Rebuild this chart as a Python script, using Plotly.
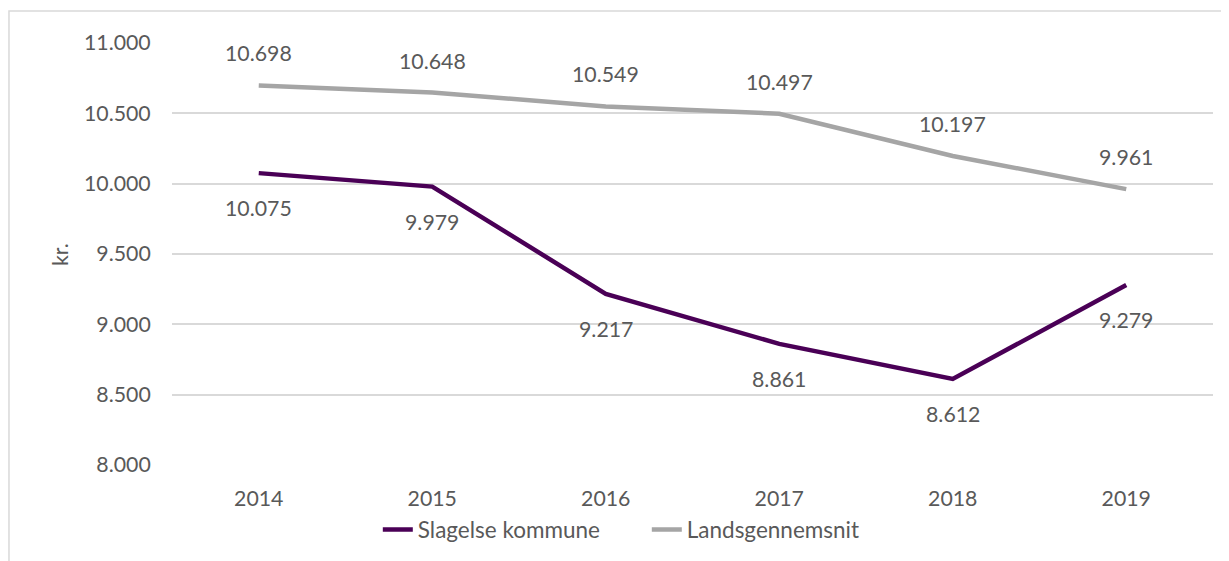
import plotly.graph_objects as go

years = ["2014", "2015", "2016", "2017", "2018", "2019"]
slagelse = [10075, 9979, 9217, 8861, 8612, 9279]
lands = [10698, 10648, 10549, 10497, 10197, 9961]
slagelse_labels = ["10.075", "9.979", "9.217", "8.861", "8.612", "9.279"]
lands_labels = ["10.698", "10.648", "10.549", "10.497", "10.197", "9.961"]
y_ticks = [8000, 8500, 9000, 9500, 10000, 10500, 11000]
y_ticklabels = ["8.000", "8.500", "9.000", "9.500", "10.000", "10.500", "11.000"]

PURPLE = "#4A0056"
GRAY = "#A5A5A5"
TXT = "#595959"
FONT = "Lato"
FS = 21.3
LFS = 22.5

fig = go.Figure()
fig.add_trace(go.Scatter(x=years, y=slagelse, mode="lines", name="Slagelse kommune",
                         line=dict(color=PURPLE, width=4.5)))
fig.add_trace(go.Scatter(x=years, y=lands, mode="lines", name="Landsgennemsnit",
                         line=dict(color=GRAY, width=4.5)))

ann = []
for i, (y, t) in enumerate(zip(lands, lands_labels)):
    ann.append(dict(x=i, y=y, xref="x", yref="y", text=t, showarrow=False, yshift=32,
                    yanchor="middle", font=dict(family=FONT, size=FS, color=TXT)))
for i, (y, t) in enumerate(zip(slagelse, slagelse_labels)):
    ann.append(dict(x=i, y=y, xref="x", yref="y", text=t, showarrow=False, yshift=-35,
                    yanchor="middle", font=dict(family=FONT, size=FS, color=TXT)))
ann.append(dict(xref="paper", yref="paper", x=-0.1076, y=0.5, text="kr.", textangle=-90,
                xanchor="center", yanchor="middle",
                showarrow=False, font=dict(family=FONT, size=FS, color=TXT)))

fig.update_layout(
    width=1229, height=561,
    margin=dict(l=164, r=24, t=35, b=104, autoexpand=False),
    paper_bgcolor="white", plot_bgcolor="white",
    font=dict(family=FONT, size=FS, color=TXT),
    showlegend=True,
    legend=dict(orientation="h", x=0.1977, xanchor="left", y=-0.154, yanchor="middle",
                font=dict(family=FONT, size=LFS, color=TXT), itemwidth=30,
                entrywidth=224, entrywidthmode="pixels",
                bgcolor="rgba(0,0,0,0)"),
    annotations=ann,
    shapes=[dict(type="rect", xref="paper", yref="paper", x0=-0.1566, x1=1.2, y0=-0.4, y1=1.0758,
                 line=dict(color="#D9D9D9", width=1.5), fillcolor="rgba(0,0,0,0)", layer="below")],
)
fig.update_xaxes(type="category", range=[-0.5, 5.5], showgrid=False, zeroline=False,
                 showline=False, ticks="outside", ticklen=14, tickcolor="rgba(0,0,0,0)",
                 tickfont=dict(family=FONT, size=FS, color=TXT), fixedrange=True,
                 automargin=False)
fig.update_yaxes(range=[8000, 11000], tickvals=y_ticks, ticktext=y_ticklabels,
                 showgrid=True, gridcolor="#D9D9D9", gridwidth=1.5, zeroline=False,
                 showline=False, ticks="outside", ticklen=16, tickcolor="rgba(0,0,0,0)",
                 tickfont=dict(family=FONT, size=FS, color=TXT), fixedrange=True,
                 automargin=False)

fig.write_html("out.html")
